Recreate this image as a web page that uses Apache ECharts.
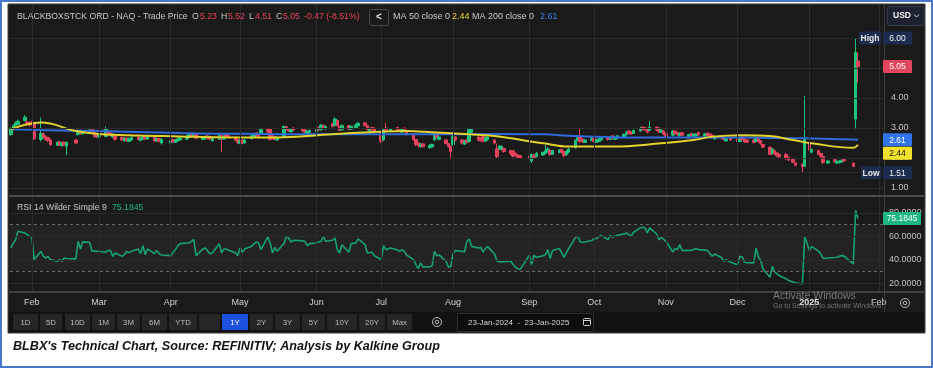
<!DOCTYPE html>
<html><head><meta charset="utf-8">
<script src="https://cdn.jsdelivr.net/npm/echarts@6.0.0/dist/echarts.min.js"></script>
<style>html,body{margin:0;padding:0;background:#fff;}#chart{width:933px;height:368px;}</style>
</head><body><div id="chart"></div>
<script>
// ---------------- DATA ----------------
const holidays = ['2024-02-19','2024-03-29','2024-05-27','2024-06-19','2024-07-04','2024-09-02','2024-11-28','2024-12-25','2025-01-01','2025-01-09','2025-01-20'];
const open = [
2.78,2.98,3.08,3.12,3.25,3.2,3.18,
3.2,3.17,2.62,2.8,2.72,2.68,2.6,2.42,2.54,2.41,2.53,2.4,2.6,2.78,2.92,2.8,2.84,2.96,2.85,2.8,
2.7,2.72,2.9,2.84,2.7,2.75,2.69,2.57,2.67,2.55,2.6,2.7,2.58,2.62,2.72,2.63,2.68,2.57,2.65,2.5,
2.5,2.62,2.52,2.56,2.6,2.63,2.69,2.83,2.72,2.8,2.62,2.65,2.74,2.71,2.57,2.62,2.75,2.63,2.78,2.75,2.7,2.62,
2.49,2.6,2.5,2.64,2.71,2.84,2.8,2.8,2.97,2.95,2.74,2.7,2.6,2.7,3.04,2.98,2.87,3.0,2.98,2.94,2.82,2.84,
2.88,3.02,2.94,3.08,2.97,3.14,3.08,3.25,3.05,2.94,3.08,2.96,3.0,3.07,3.17,3.08,2.9,3.02,2.99,
2.88,2.6,3.0,2.88,3.02,2.98,2.86,3.0,2.92,2.8,2.62,2.5,2.38,2.47,2.34,2.37,2.6,2.78,2.62,2.6,2.48,2.4,
2.45,2.7,2.6,2.46,2.6,2.55,2.86,2.7,2.67,2.72,2.56,2.61,2.6,2.3,2.3,2.28,2.32,2.25,2.24,2.16,2.1,2.08,
2.07,1.9,2.1,2.05,2.1,2.15,2.21,2.25,2.12,2.18,2.29,2.22,2.12,2.2,2.34,2.6,2.7,2.63,2.52,2.58,
2.65,2.52,2.55,2.6,2.7,2.62,2.74,2.62,2.66,2.69,2.78,2.9,2.87,2.82,2.9,3.03,3.01,2.94,2.92,3.03,3.0,2.86,2.9,
2.82,2.76,2.9,2.85,2.74,2.84,2.71,2.82,2.72,2.73,2.85,2.73,2.83,2.8,2.76,2.63,2.74,2.7,2.57,2.68,
2.64,2.55,2.7,2.63,2.6,2.6,2.55,2.65,2.58,2.45,2.36,2.15,2.25,2.17,2.12,2.12,2.02,1.96,1.84,1.8,1.72,
2.5,2.19,2.25,2.15,2.05,1.83,1.94,1.83,1.84,1.86,1.96,1.83,3.3,5.23];
const close = [
2.98,3.08,3.17,3.22,3.36,3.12,3.1,
3.12,2.64,2.82,2.7,2.62,2.58,2.45,2.52,2.44,2.5,2.44,2.52,2.5,2.92,2.82,2.9,2.93,2.87,2.72,2.7,
2.8,2.98,2.8,2.76,2.79,2.62,2.6,2.66,2.58,2.64,2.68,2.62,2.66,2.7,2.63,2.75,2.57,2.65,2.56,2.62,
2.58,2.54,2.6,2.64,2.67,2.72,2.78,2.75,2.8,2.66,2.7,2.72,2.65,2.63,2.64,2.76,2.65,2.72,2.7,2.68,2.6,2.52,
2.58,2.5,2.6,2.74,2.8,2.76,2.72,2.95,2.88,2.62,2.66,2.62,2.68,3.05,2.96,2.9,2.95,2.93,2.9,2.86,2.9,2.92,
2.96,2.94,3.1,3.0,3.05,3.05,3.3,3.08,2.92,3.08,2.96,3.06,3.1,3.16,3.08,2.95,2.98,2.94,2.9,
2.55,2.95,2.88,2.97,2.94,2.9,2.95,2.92,2.78,2.62,2.45,2.4,2.46,2.38,2.42,2.45,2.8,2.68,2.7,2.48,2.38,2.22,
2.72,2.6,2.5,2.55,2.52,2.95,2.96,2.6,2.58,2.56,2.68,2.7,2.5,2.05,2.4,2.38,2.22,2.15,2.06,2.08,2.02,2.0,
1.98,2.12,2.02,2.15,2.18,2.24,2.3,2.12,2.24,2.27,2.2,2.08,2.22,2.3,2.58,2.68,2.55,2.55,2.6,2.66,
2.56,2.6,2.62,2.68,2.62,2.7,2.66,2.7,2.74,2.78,2.86,2.82,2.8,2.92,3.0,2.95,2.94,2.86,3.02,2.94,2.88,2.93,2.8,
2.72,2.9,2.82,2.78,2.82,2.76,2.78,2.75,2.79,2.8,2.78,2.8,2.76,2.72,2.68,2.7,2.66,2.62,2.64,2.6,
2.55,2.66,2.62,2.54,2.53,2.52,2.68,2.56,2.48,2.36,2.12,2.3,2.14,2.08,2.04,1.98,1.93,1.86,1.76,1.7,2.62,
2.25,2.28,2.12,2.06,1.85,1.9,1.88,1.89,1.9,1.92,1.9,1.72,5.52,5.05];
const high = [
3.02,3.12,3.22,3.28,3.43,3.25,3.22,
3.24,3.2,3.35,2.85,2.75,2.7,2.63,2.55,2.57,2.53,2.55,2.55,2.63,2.95,2.95,2.93,2.97,2.98,2.87,2.82,
2.83,3.05,2.92,2.86,2.82,2.77,2.71,2.69,2.69,2.68,2.72,2.72,2.69,2.74,2.74,2.78,2.7,2.68,2.67,2.66,
2.62,2.64,2.63,2.68,2.7,2.76,2.82,2.85,2.84,2.82,2.73,2.75,2.76,2.73,2.67,2.79,2.77,2.75,2.8,2.77,2.72,2.64,
2.61,2.62,2.63,2.78,2.83,2.86,2.82,2.98,2.99,2.97,2.76,2.72,2.72,3.08,3.06,3.0,2.98,3.02,3.0,2.96,2.93,2.95,
2.99,3.04,3.13,3.12,3.08,3.17,3.35,3.28,3.07,3.12,3.1,3.09,3.14,3.2,3.19,3.1,3.01,3.04,3.01,
2.9,2.98,3.17,3.0,3.04,3.0,2.98,3.02,2.94,2.83,2.64,2.52,2.5,2.49,2.46,2.48,2.83,2.8,2.73,2.62,2.5,2.42,
2.8,2.72,2.62,2.6,2.62,3.0,3.0,2.72,2.69,2.74,2.72,2.74,2.62,2.48,2.43,2.42,2.34,2.27,2.26,2.18,2.12,2.1,
2.09,2.15,2.13,2.2,2.22,2.43,2.36,2.27,2.28,2.3,2.31,2.24,2.26,2.34,2.62,2.72,2.97,2.65,2.64,2.7,
2.67,2.64,2.66,2.71,2.72,2.74,2.76,2.74,2.77,2.82,2.9,2.92,2.89,2.95,3.04,3.05,3.03,2.97,3.23,3.05,3.02,2.96,2.92,
2.84,2.93,2.92,2.87,2.85,2.86,2.81,2.84,2.82,2.83,2.87,2.84,2.85,2.82,2.78,2.73,2.76,2.72,2.67,2.7,
2.66,2.7,2.72,2.65,2.62,2.62,2.72,2.67,2.6,2.47,2.38,2.33,2.27,2.19,2.14,2.17,2.04,1.98,1.86,1.82,4.07,
2.52,2.31,2.27,2.17,2.06,1.93,1.96,1.92,1.93,1.95,1.98,1.85,6.0,5.52];
const low = [
2.74,2.95,3.05,3.1,3.22,3.08,3.05,
3.08,2.6,2.55,2.66,2.58,2.53,2.4,2.4,2.4,2.38,2.4,2.1,2.47,2.75,2.78,2.78,2.82,2.83,2.68,2.66,
2.67,2.7,2.76,2.72,2.68,2.58,2.56,2.55,2.55,2.53,2.58,2.59,2.56,2.6,2.6,2.6,2.53,2.54,2.52,2.45,
2.48,2.5,2.5,2.54,2.58,2.6,2.66,2.71,2.7,2.62,2.6,2.62,2.62,2.6,2.55,2.6,2.2,2.61,2.66,2.65,2.56,2.46,
2.46,2.45,2.48,2.62,2.69,2.72,2.68,2.78,2.84,2.58,2.62,2.6,2.58,2.68,2.92,2.87,2.85,2.9,2.87,2.83,2.8,2.82,
2.86,2.9,2.92,2.96,2.95,3.02,3.06,3.05,2.9,2.92,2.93,2.93,2.98,3.05,3.05,2.92,2.88,2.9,2.86,
2.5,2.58,2.85,2.86,2.9,2.87,2.84,2.88,2.75,2.58,2.4,2.36,2.34,2.35,2.32,2.35,2.58,2.65,2.6,2.45,2.35,2.0,
2.42,2.56,2.45,2.44,2.48,2.53,2.84,2.55,2.55,2.52,2.53,2.58,2.46,2.0,2.27,2.26,2.18,2.1,2.02,2.05,1.98,1.97,
1.9,1.83,1.98,2.02,2.08,2.13,2.19,2.08,2.1,2.16,2.16,2.03,2.08,2.15,2.32,2.56,2.5,2.5,2.5,2.56,
2.52,2.5,2.53,2.58,2.58,2.6,2.62,2.6,2.64,2.67,2.75,2.78,2.77,2.8,2.88,2.92,2.9,2.82,2.9,2.9,2.84,2.84,2.76,
2.68,2.74,2.78,2.75,2.72,2.73,2.69,2.72,2.7,2.71,2.75,2.71,2.73,2.69,2.65,2.61,2.62,2.59,2.55,2.57,
2.52,2.53,2.58,2.5,2.5,2.48,2.53,2.52,2.44,2.33,2.1,2.12,2.1,2.04,2.0,1.94,1.9,1.83,1.72,1.51,1.7,
2.2,2.15,2.1,2.02,1.8,1.81,1.85,1.81,1.82,1.84,1.87,1.7,2.95,4.51];
const rsi = [
50.1,54.4,57.2,64.3,62.9,61.5,60.1,
59.5,40.2,47.3,43.0,41.6,43.0,40.2,38.8,40.2,38.8,41.6,41.1,40.8,55.8,49.3,55.3,55.0,47.3,47.5,47.3,
47.3,46.5,48.2,47.9,43.0,45.9,43.0,44.5,47.3,45.9,47.3,49.3,45.3,52.1,44.5,49.3,45.3,47.9,45.3,44.2,
43.6,46.0,48.7,51.5,53.8,54.4,54.4,55.8,57.2,43.6,49.3,50.1,47.5,45.3,45.9,53.8,45.9,49.3,49.3,48.2,46.0,43.6,
50.1,46.5,49.3,51.5,53.6,55.3,54.4,48.7,59.5,54.4,45.9,50.7,47.3,54.0,60.1,58.6,55.0,56.7,56.2,55.8,52.1,53.8,
54.4,55.1,55.8,60.1,55.8,56.7,58.6,48.7,45.9,52.9,46.5,53.8,54.4,57.8,52.9,45.9,46.2,46.5,43.5,
40.2,52.1,48.7,50.1,48.5,47.3,48.7,47.3,44.0,40.2,36.0,32.6,37.4,34.0,34.0,35.1,47.3,43.6,44.2,39.0,34.0,34.0,
45.0,47.9,47.3,46.7,55.8,57.8,51.5,50.1,50.7,46.7,49.6,51.3,45.0,38.8,38.5,38.2,38.5,38.8,36.0,33.7,32.5,31.7,
43.9,35.9,43.9,42.2,43.5,44.5,48.7,41.1,47.9,49.6,46.0,42.2,45.9,49.6,59.2,60.1,55.2,55.0,55.2,56.5,
58.1,58.1,59.5,60.9,57.2,60.9,59.2,60.0,60.9,62.1,62.9,61.5,60.1,63.5,67.2,67.7,67.2,62.9,67.2,62.0,57.2,59.2,57.5,
55.8,46.7,49.6,48.7,53.0,47.9,48.2,47.9,48.8,49.6,48.7,48.3,47.9,45.5,43.0,45.0,42.0,38.8,40.2,38.0,
35.9,43.0,42.5,37.9,37.6,37.4,50.1,42.2,39.4,32.0,25.2,34.5,29.7,28.3,26.5,24.0,22.5,21.2,20.5,19.5,60.1,
47.9,51.5,47.3,45.0,41.1,41.6,42.0,42.2,43.0,43.6,43.2,36.5,82.2,75.1845];
const maDates = ['2024-01-23','2024-02-05','2024-02-20','2024-03-01','2024-03-18','2024-04-05','2024-04-22','2024-05-13','2024-05-20','2024-06-10','2024-07-02','2024-07-12','2024-07-23','2024-08-08','2024-08-19','2024-09-09','2024-09-20','2024-10-09','2024-10-30','2024-11-13','2024-11-21','2024-12-04','2024-12-16','2024-12-26','2025-01-03','2025-01-21','2025-01-23'];
const ma50  = [2.96,3.18,2.90,2.80,2.75,2.72,2.69,2.68,2.69,2.79,2.88,2.90,2.86,2.79,2.73,2.49,2.38,2.38,2.49,2.60,2.71,2.76,2.73,2.60,2.49,2.34,2.44];
const ma200 = [2.96,2.93,2.91,2.90,2.87,2.83,2.81,2.80,2.79,2.79,2.79,2.79,2.79,2.79,2.80,2.79,2.74,2.69,2.68,2.68,2.68,2.68,2.67,2.66,2.65,2.62,2.61];
const monthTicks  = ['2024-02-01','2024-03-01','2024-04-01','2024-05-01','2024-06-03','2024-07-01','2024-08-01','2024-09-03','2024-10-01','2024-11-01','2024-12-02','2025-01-02','2025-02-01'];
const monthLabels = ['Feb','Mar','Apr','May','Jun','Jul','Aug','Sep','Oct','Nov','Dec','2025','Feb'];
const priceTicks = [1,2,3,4,5,6];
const rsiTicks = [20,40,60,80];
const rangeButtons = ['1D','5D','10D','1M','3M','6M','YTD','1Y','2Y','3Y','5Y','10Y','20Y','Max'];

// ---------------- HELPERS ----------------
function ymd(d){return d.getUTCFullYear()+'-'+String(d.getUTCMonth()+1).padStart(2,'0')+'-'+String(d.getUTCDate()).padStart(2,'0');}
const dates=[];
for(let t=Date.UTC(2024,0,23);t<=Date.UTC(2025,0,23);t+=86400000){const d=new Date(t);const wd=d.getUTCDay();const s=ymd(d);if(wd>0&&wd<6&&holidays.indexOf(s)<0)dates.push(s);}
function ts(s){const p=s.split('-').map(Number);return Date.UTC(p[0],p[1]-1,p[2]);}
[open,close,high,low,rsi].forEach((a,k)=>{if(a.length!==dates.length)throw new Error('length mismatch '+k+': '+a.length+' vs '+dates.length);});
const DAY=86400000;
const xMin = ts('2024-01-23') - 0.432*DAY;
const xMax = xMin + 377.7*DAY;
const FONT="'Liberation Sans', Arial, sans-serif";
const UP='#1fc47e', DOWN='#e5425d', GRIDC='#2b2b2b';

const candles = dates.map((s,i)=>[ts(s),open[i],close[i],low[i],high[i]]);
const ma50Data = maDates.map((s,i)=>[ts(s),ma50[i]]);
const ma200Data = maDates.map((s,i)=>[ts(s),ma200[i]]);
const rsiData = dates.map((s,i)=>[ts(s),rsi[i]]);
const tickTs = monthTicks.map(ts);
const vLines = tickTs.filter(t=>t<xMax).map(t=>({xAxis:t}));

const chart = echarts.init(document.getElementById('chart'),null,{renderer:'canvas'});
const option = {
  animation:false,
  backgroundColor:'#ffffff',
  grid:[{left:10,right:49,top:5,height:190},{left:10,right:49,top:197,height:94}],
  xAxis:[
    {type:'value',gridIndex:0,min:xMin,max:xMax,scale:true,axisLine:{show:false},axisTick:{show:false},axisLabel:{show:false},splitLine:{show:false}},
    {type:'value',gridIndex:1,min:xMin,max:xMax,scale:true,axisLine:{show:false},axisTick:{show:false},splitLine:{show:false},
     axisLabel:{customValues:tickTs.filter(t=>t<xMax),margin:7,color:'#d2d2d2',fontSize:9,fontFamily:FONT,
       formatter:function(v){let i=-1;tickTs.forEach((t,k)=>{if(Math.abs(t-v)<DAY/2)i=k;});const l=i>=0?monthLabels[i]:'';return l==='2025'?'{b|2025}':l;},
       rich:{b:{fontWeight:'bold',color:'#e6e6e6',fontSize:9,fontFamily:FONT}}}}
  ],
  yAxis:[
    {type:'value',gridIndex:0,position:'right',min:1-7/30,max:1+183/30,axisLine:{show:false},axisTick:{show:false},splitLine:{show:false},
     axisLabel:{customValues:priceTicks,margin:7,color:'#c4c4c4',fontSize:9,fontFamily:FONT,formatter:v=>v.toFixed(2)}},
    {type:'value',gridIndex:1,position:'right',min:13.5,max:93.5,axisLine:{show:false},axisTick:{show:false},splitLine:{show:false},
     axisLabel:{customValues:rsiTicks,margin:5,color:'#c4c4c4',fontSize:9,fontFamily:FONT,formatter:v=>v.toFixed(4)}}
  ],
  series:[
    {type:'line',xAxisIndex:0,yAxisIndex:0,data:[],z:1,silent:true,
     markLine:{silent:true,symbol:'none',label:{show:false},animation:false,lineStyle:{color:GRIDC,width:1,type:'solid'},
       data:priceTicks.map(v=>({yAxis:v})).concat([{yAxis:Math.min.apply(null,low)}]).concat(vLines)}},
    {type:'line',xAxisIndex:1,yAxisIndex:1,data:[],z:1,silent:true,
     markArea:{silent:true,itemStyle:{color:'#232323'},data:[[{yAxis:30},{yAxis:70}]]},
     markLine:{silent:true,symbol:'none',label:{show:false},animation:false,lineStyle:{color:GRIDC,width:1,type:'solid'},
       data:rsiTicks.map(v=>({yAxis:v})).concat(vLines)}},
    {type:'line',xAxisIndex:1,yAxisIndex:1,data:[],z:1,silent:true,
     markLine:{silent:true,symbol:'none',label:{show:false},animation:false,lineStyle:{color:'#6a6a6a',width:1,type:[3,3]},
       data:[{yAxis:30},{yAxis:70}]}},
    {type:'candlestick',xAxisIndex:0,yAxisIndex:0,data:candles,barWidth:3,z:2,
     itemStyle:{color:UP,color0:DOWN,borderColor:UP,borderColor0:DOWN,borderWidth:1}},
    {type:'line',xAxisIndex:0,yAxisIndex:0,data:ma200Data,smooth:0.4,showSymbol:false,symbol:'none',z:3,lineStyle:{color:'#2f6ad8',width:2}},
    {type:'line',xAxisIndex:0,yAxisIndex:0,data:ma50Data,smooth:0.4,showSymbol:false,symbol:'none',z:4,lineStyle:{color:'#e2d22e',width:2}},
    {type:'line',xAxisIndex:1,yAxisIndex:1,data:rsiData,showSymbol:false,symbol:'none',z:3,lineStyle:{color:'#17a274',width:1.6}}
  ]
};
chart.setOption(option);

// ---------------- DECORATION ----------------
const n=dates.length-1;
const G=[];
function rect(x,y,w,h,fill,stroke,z,r){G.push({type:'rect',z:z==null?-10:z,silent:true,shape:{x:x,y:y,width:w,height:h,r:r||0},style:{fill:fill,stroke:stroke||null,lineWidth:1}});}
function line(x1,y1,x2,y2,stroke,w,z){G.push({type:'line',z:z==null?-5:z,silent:true,shape:{x1:x1,y1:y1,x2:x2,y2:y2},style:{stroke:stroke,lineWidth:w||1}});}
function text(x,y,t,fill,size,opts){opts=opts||{};G.push({type:'text',z:opts.z==null?50:opts.z,silent:true,x:x,y:y,style:{text:t,fill:fill,font:(opts.style||'normal')+' '+(opts.weight||'normal')+' '+size+'px '+(opts.family||FONT),align:opts.align||'left',verticalAlign:'middle'}});}

rect(1,1,931,366,'#ffffff','#4a78c9',-20);
G[G.length-1].style.lineWidth=2;
rect(8,4,917,329,'#1a1a1a','#3a3a3a',-15);
rect(9,312,915,20,'#121212',null,-14);
line(9,196,924,196,'#5e5e5e',1.5,10);
line(9,292,924,292,'#4e4e4e',1.5,10);
line(884.5,4,884.5,312,'#3d3d3d',1,10);

text(17,17,'BLACKBOXSTCK ORD - NAQ - Trade Price','#c8c8c8',8.7);
const chg=close[n]-close[n-1], pct=chg/close[n-1]*100;
text(192,17,'O','#c8c8c8',8.7); text(200,17,open[n].toFixed(2),DOWN,8.7);
text(221,17,'H','#c8c8c8',8.7); text(228,17,high[n].toFixed(2),DOWN,8.7);
text(249,17,'L','#c8c8c8',8.7); text(255,17,low[n].toFixed(2),DOWN,8.7);
text(276,17,'C','#c8c8c8',8.7); text(283,17,close[n].toFixed(2),DOWN,8.7);
text(304,17,chg.toFixed(2)+' ('+pct.toFixed(2)+'%)',DOWN,8.7);
rect(369.5,9.5,19,16,'#1a1a1a','#4a4a4a',40,2);
text(379,17,'<','#e0e0e0',10,{align:'center',weight:'bold'});
text(393,17,'MA 50 close 0','#c8c8c8',9);
text(452,17,ma50[ma50.length-1].toFixed(2),'#e6d62c',9);
text(472,17,'MA 200 close 0','#c8c8c8',9);
text(540,17,ma200[ma200.length-1].toFixed(2),'#3f7de6',9);
rect(887.5,6.5,37,19,'#1c2230','#343b4c',40,2);
text(893,16,'USD','#f0f0f0',8.5,{weight:'bold'});
G.push({type:'polyline',z:50,silent:true,shape:{points:[[914,14.5],[916.5,17],[919,14.5]]},style:{stroke:'#cfcfcf',lineWidth:1,fill:null}});

text(17,208,'RSI 14 Wilder Simple 9','#c8c8c8',8.7);
text(112,208,rsi[n].toFixed(4),'#1db583',8.7);

const btnBoxes=[[13,38],[40,62],[65,90],[92,115],[117,140],[142,167],[169,197],[222,248],[250,273],[275,300],[302,325],[327,357],[359,385],[387,412]];
rangeButtons.forEach((b,i)=>{const bx=btnBoxes[i];const act=(b==='1Y');
  rect(bx[0],314,bx[1]-bx[0],16,act?'#1d4fe0':'#262626',null,-12);
  text((bx[0]+bx[1])/2,322.5,b,act?'#ffffff':'#bdbdbd',7.8,{align:'center',z:20});});
rect(199,314,21,16,'#262626',null,-12);
G.push({type:'circle',z:20,silent:true,shape:{cx:437,cy:322,r:4.5},style:{stroke:'#bbbbbb',fill:null,lineWidth:1}});
G.push({type:'circle',z:20,silent:true,shape:{cx:437,cy:322,r:1.8},style:{stroke:'#bbbbbb',fill:null,lineWidth:1}});
rect(457.5,313.5,136,18,'#0d0d0d','#2e2e2e',-12);
text(468,322.5,'23-Jan-2024  -  23-Jan-2025','#d8d8d8',8,{z:20});
rect(583.5,318.5,7,7,null,'#cfcfcf',20,1);
line(583.5,320.5,590.5,320.5,'#cfcfcf',1,21);
G.push({type:'circle',z:20,silent:true,shape:{cx:905,cy:303,r:4.5},style:{stroke:'#bbbbbb',fill:null,lineWidth:1}});
G.push({type:'circle',z:20,silent:true,shape:{cx:905,cy:303,r:1.8},style:{stroke:'#bbbbbb',fill:null,lineWidth:1}});

text(773,296,'Activate Windows','rgba(150,150,150,0.75)',10.5,{z:60});
text(773,306,'Go to Settings to activate Windows.','rgba(150,150,150,0.7)',7,{z:60});

text(13,347,"BLBX's Technical Chart, Source: REFINITIV; Analysis by Kalkine Group",'#111111',12.6,{style:'italic',weight:'bold',family:"'Liberation Sans Narrow', 'Liberation Sans', Arial, sans-serif"});

// badges: positions from the axis scale, stacked downward if they would overlap
function yP(idx,v){return chart.convertToPixel({yAxisIndex:idx},v);}
const hiV=Math.max.apply(null,high), loV=Math.min.apply(null,low);
const priceBadges=[
  {v:hiV,label:hiV.toFixed(2),bg:'#1c2c4e',fg:'#f0f0f0',tag:'High',tx:859,tw:22},
  {v:close[n],label:close[n].toFixed(2),bg:'#e1455e',fg:'#ffffff'},
  {v:ma200[ma200.length-1],label:ma200[ma200.length-1].toFixed(2),bg:'#2f74e8',fg:'#ffffff'},
  {v:ma50[ma50.length-1],label:ma50[ma50.length-1].toFixed(2),bg:'#f2e22b',fg:'#111111'},
  {v:loV,label:loV.toFixed(2),bg:'#1c2c4e',fg:'#f0f0f0',tag:'Low',tx:861,tw:20}
];
priceBadges.forEach(b=>b.y=yP(0,b.v));
priceBadges.sort((a,b)=>a.y-b.y);
for(let i=1;i<priceBadges.length;i++){if(priceBadges[i].y<priceBadges[i-1].y+13.5)priceBadges[i].y=priceBadges[i-1].y+13.5;}
priceBadges.forEach(b=>{
  rect(883,b.y-6.5,29,13,b.bg,null,70,1);text(897.5,b.y+0.5,b.label,b.fg,8.5,{align:'center',z:71});
  if(b.tag){rect(b.tx,b.y-6.5,b.tw,13,'#1c2c4e',null,70,1);text(b.tx+b.tw/2,b.y+0.5,b.tag,'#e8e8e8',8.5,{align:'center',z:71,weight:'bold'});}
});
const ry=yP(1,rsi[n]);
rect(883,ry-6.5,38,13,'#1db684',null,70,1);text(902,ry+0.5,rsi[n].toFixed(4),'#ffffff',8.5,{align:'center',z:71});

chart.setOption({graphic:{elements:G}});
</script></body></html>
